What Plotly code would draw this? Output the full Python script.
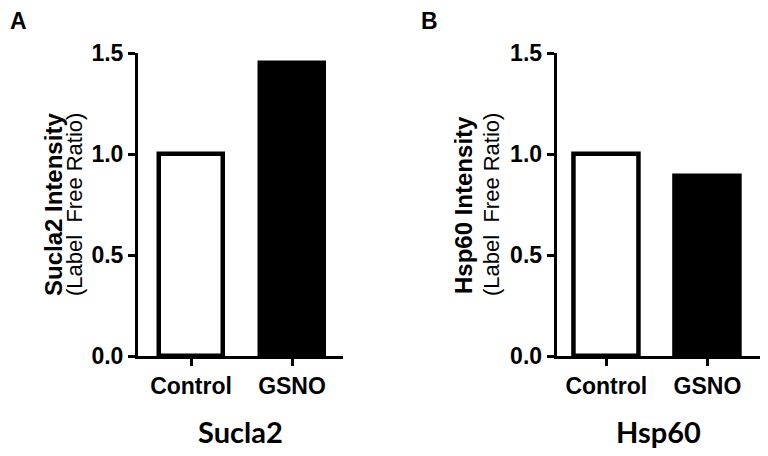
import plotly.graph_objects as go

categories = ["Control", "GSNO"]
sucla2_values = [1.0, 1.45]
hsp60_values = [1.0, 0.89]
bar_colors = ["white", "black"]
y_tick_vals = [0.0, 0.5, 1.0, 1.5]
y_tick_text = ["0.0", "0.5", "1.0", "1.5"]
panel_letters = ["A", "B"]
protein_names = ["Sucla2", "Hsp60"]
y_titles = ["Sucla2 Intensity", "Hsp60 Intensity"]
y_subtitle = "(Label  Free Ratio)"

# page body has an 8px default margin; figure sized to fit the window
OFF = 8
FW, FH = 752, 440


def px(x):
    return (x - OFF) / FW


def py(y):
    return 1 - (y - OFF) / FH


fig = go.Figure()
bar_line = dict(color="black", width=4.5)
fig.add_trace(go.Bar(x=categories, y=sucla2_values, width=0.64,
                     marker=dict(color=bar_colors, line=bar_line),
                     xaxis="x", yaxis="y", showlegend=False, hoverinfo="x+y"))
fig.add_trace(go.Bar(x=categories, y=hsp60_values, width=0.64,
                     marker=dict(color=bar_colors, line=bar_line),
                     xaxis="x2", yaxis="y2", showlegend=False, hoverinfo="x+y"))

ydom = [py(356), py(53)]
tickfont = dict(family="Liberation Sans, Arial", size=23, color="black", weight="bold")

xcommon = dict(showline=True, linewidth=3, linecolor="black", ticks="outside",
               ticklen=7, tickwidth=3, tickcolor="black", showgrid=False,
               zeroline=False, tickfont=tickfont, fixedrange=True, automargin=False)
ycommon = dict(showline=True, linewidth=3, linecolor="black", ticks="outside",
               ticklen=7, tickwidth=3, tickcolor="black", showgrid=False,
               zeroline=False, tickfont=tickfont, range=[0, 1.5], automargin=False,
               tickvals=y_tick_vals, ticktext=y_tick_text, domain=ydom, fixedrange=True)

fig.update_layout(
    width=FW, height=FH,
    margin=dict(l=0, r=0, t=0, b=0, autoexpand=False),
    paper_bgcolor="white", plot_bgcolor="white",
    xaxis=dict(domain=[px(138), px(343)], range=[-0.525, 1.505], anchor="y", **xcommon),
    yaxis=dict(anchor="x", **ycommon),
    xaxis2=dict(domain=[px(556.7), px(760)], range=[-0.49, 1.52], anchor="y2", **xcommon),
    yaxis2=dict(anchor="x2", **ycommon),
    bargap=0,
)

ann = []
letter_x = [18, 429]
title_x = [53, 463]
sub_x = [74, 491]
bottom_x = [240, 658]
for i in range(2):
    ann.append(dict(text=f"<b>{panel_letters[i]}</b>", x=px(letter_x[i]), y=py(21),
                    xref="paper", yref="paper", xanchor="center", yanchor="middle",
                    showarrow=False, font=dict(family="Liberation Sans, Arial", size=23, color="black")))
    ann.append(dict(text=f"<b>{y_titles[i]}</b>", x=px(title_x[i]), y=py(205),
                    xref="paper", yref="paper", xanchor="center", yanchor="middle",
                    textangle=-90, showarrow=False,
                    font=dict(family="Liberation Sans, Arial", size=24, color="black")))
    ann.append(dict(text=y_subtitle, x=px(sub_x[i]), y=py(205),
                    xref="paper", yref="paper", xanchor="center", yanchor="middle",
                    textangle=-90, showarrow=False,
                    font=dict(family="Liberation Sans, Arial", size=22, color="black")))
    ann.append(dict(text=f"<b>{protein_names[i]}</b>", x=px(bottom_x[i]), y=py(431),
                    xref="paper", yref="paper", xanchor="center", yanchor="middle",
                    showarrow=False, font=dict(family="Lato", size=29, color="black")))
fig.update_layout(annotations=ann)

fig.write_html("out.html")
